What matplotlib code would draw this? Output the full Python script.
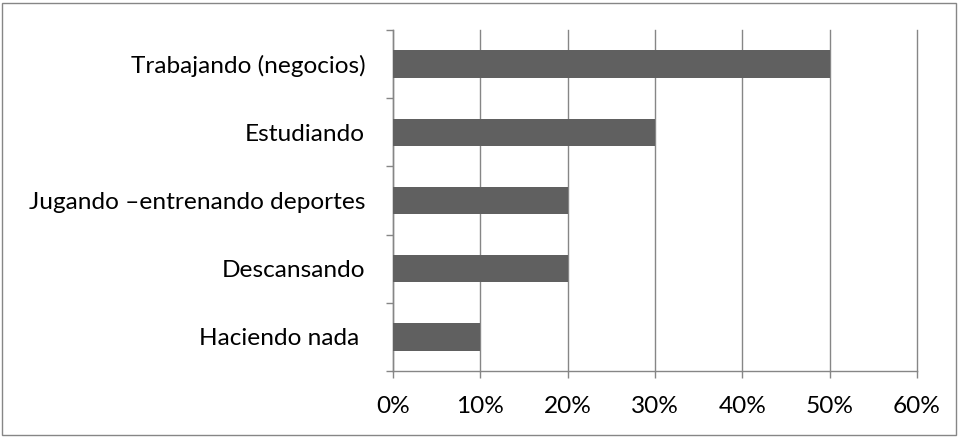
import matplotlib
matplotlib.use("Agg")
import matplotlib.pyplot as plt
from matplotlib.patches import Rectangle
from matplotlib.ticker import FixedLocator, NullFormatter, PercentFormatter

# -----------------------------
# Data
# -----------------------------

categories = [
    "Trabajando (negocios)",
    "Estudiando",
    "Jugando \u2013entrenando deportes",
    "Descansando",
    "Haciendo nada ",
]
values = [50, 30, 20, 20, 10]
x_ticks = [0, 10, 20, 30, 40, 50, 60]

# -----------------------------
# Style
# -----------------------------

plt.rcParams["font.family"] = ["Lato", "DejaVu Sans"]
plt.rcParams["font.size"] = 17.6

bar_color = "#606060"
line_color = "#868686"

# -----------------------------
# Chart
# -----------------------------

fig = plt.figure(figsize=(9.58, 4.37), dpi=100)
ax = fig.add_axes([393 / 958, 1 - 371 / 437, (917 - 393) / 958, (371 - 30) / 437])

ypos = list(range(len(categories)))
ax.barh(ypos, values, height=0.4, color=bar_color, zorder=3)

ax.set_xlim(0, 60)
ax.set_ylim(len(categories) - 0.5, -0.5)

ax.set_xticks(x_ticks)
ax.xaxis.set_major_formatter(PercentFormatter(decimals=0))
ax.grid(axis="x", color=line_color, linewidth=1, zorder=1)
for gl in ax.get_xgridlines():
    gl.set_clip_on(False)

# category labels in the middle, tick marks on the boundaries
ax.set_yticks(ypos)
ax.set_yticklabels(categories)
ax.yaxis.set_minor_locator(FixedLocator([i - 0.5 for i in range(len(categories) + 1)]))
ax.yaxis.set_minor_formatter(NullFormatter())
ax.tick_params(axis="y", which="major", length=0, pad=20)
ax.tick_params(axis="y", which="minor", length=5, color=line_color, width=1)
ax.tick_params(axis="x", length=5, color=line_color, width=1, pad=13)

for side in ["top", "right"]:
    ax.spines[side].set_visible(False)
for side in ["left", "bottom"]:
    ax.spines[side].set_color(line_color)
    ax.spines[side].set_linewidth(1)

# outer chart border
fig.patches.append(Rectangle((0.002, 0.004), 0.996, 0.99, transform=fig.transFigure,
                             fill=False, edgecolor=line_color, linewidth=1))

fig.savefig("out.png", dpi=100)
